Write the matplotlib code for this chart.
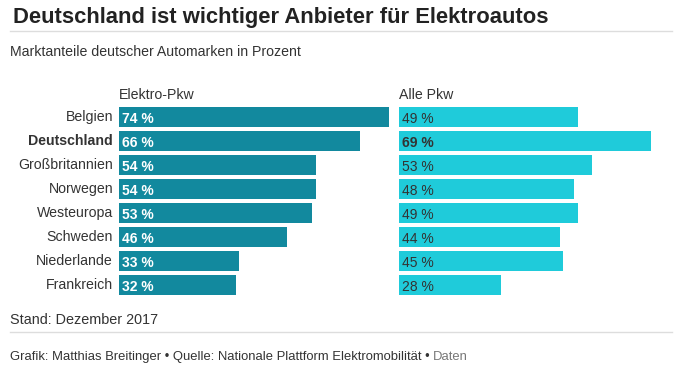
import matplotlib
matplotlib.use("Agg")
import matplotlib.pyplot as plt
from matplotlib.lines import Line2D

# Daten
laender = ["Belgien", "Deutschland", "Großbritannien", "Norwegen",
           "Westeuropa", "Schweden", "Niederlande", "Frankreich"]
elektro = [74, 66, 54, 54, 53, 46, 33, 32]
alle = [49, 69, 53, 48, 49, 44, 45, 28]
hervorheben = "Deutschland"

W, H = 679, 382
FONT = ["Liberation Sans Narrow", "Liberation Sans", "DejaVu Sans"]
plt.rcParams["font.family"] = FONT

dunkel = "#333333"
grau = "#777777"
c_elektro = "#12899e"
c_alle = "#1fcbda"

fig = plt.figure(figsize=(W / 100, H / 100), dpi=100)


def fx(x):
    return x / W


def fy(y):
    return 1 - y / H


# Achsen in Pixeln: Balken von y=107 bis y=295, 3.65 px pro Prozent
top, bottom = 107, 295
breite = 270
ax1 = fig.add_axes([fx(119), fy(bottom), fx(breite), (bottom - top) / H])
ax2 = fig.add_axes([fx(399), fy(bottom), fx(breite), (bottom - top) / H])

pos = list(range(len(laender)))
for ax, werte, farbe in [(ax1, elektro, c_elektro), (ax2, alle, c_alle)]:
    ax.barh(pos, werte, height=20 / 24, color=farbe, align="center")
    ax.set_xlim(0, 74)
    ax.set_ylim(len(laender) - 1 + 10 / 24, -10 / 24)
    ax.axis("off")

for i, (land, e, a) in enumerate(zip(laender, elektro, alle)):
    fett = "bold" if land == hervorheben else "normal"
    ax1.text(-6 / 3.65, i, land, ha="right", va="center", fontsize=10.2,
             color=dunkel, fontweight=fett)
    ax1.text(3 / 3.65, i + 0.08, f"{e} %", ha="left", va="center",
             fontsize=10, color="white", fontweight="bold")
    ax2.text(3 / 3.65, i + 0.08, f"{a} %", ha="left", va="center",
             fontsize=10, color=dunkel, fontweight=fett)

# Kopf
fig.text(fx(13), fy(18), "Deutschland ist wichtiger Anbieter für Elektroautos",
         fontsize=15.8, fontweight="bold", color="#222222", va="center")
fig.add_artist(Line2D([fx(10), fx(672)], [fy(31), fy(31)], color="#dddddd", lw=1))
fig.text(fx(10), fy(52), "Marktanteile deutscher Automarken in Prozent",
         fontsize=10.2, color=dunkel, va="center")
fig.text(fx(119), fy(95), "Elektro-Pkw", fontsize=10.2, color=dunkel, va="center")
fig.text(fx(399), fy(95), "Alle Pkw", fontsize=10.2, color=dunkel, va="center")

# Fuß
fig.text(fx(10), fy(320), "Stand: Dezember 2017", fontsize=10.4, color=dunkel, va="center")
fig.add_artist(Line2D([fx(10), fx(672)], [fy(332), fy(332)], color="#dddddd", lw=1))
t = fig.text(fx(10), fy(357),
             "Grafik: Matthias Breitinger \u2022 Quelle: Nationale Plattform Elektromobilität \u2022 ",
             fontsize=9.4, color=dunkel, va="center")
fig.canvas.draw()
bb = t.get_window_extent()
fig.text(bb.x1 / W, fy(357), "Daten", fontsize=9.4, color=grau, va="center")

fig.savefig("out.png", dpi=100)
